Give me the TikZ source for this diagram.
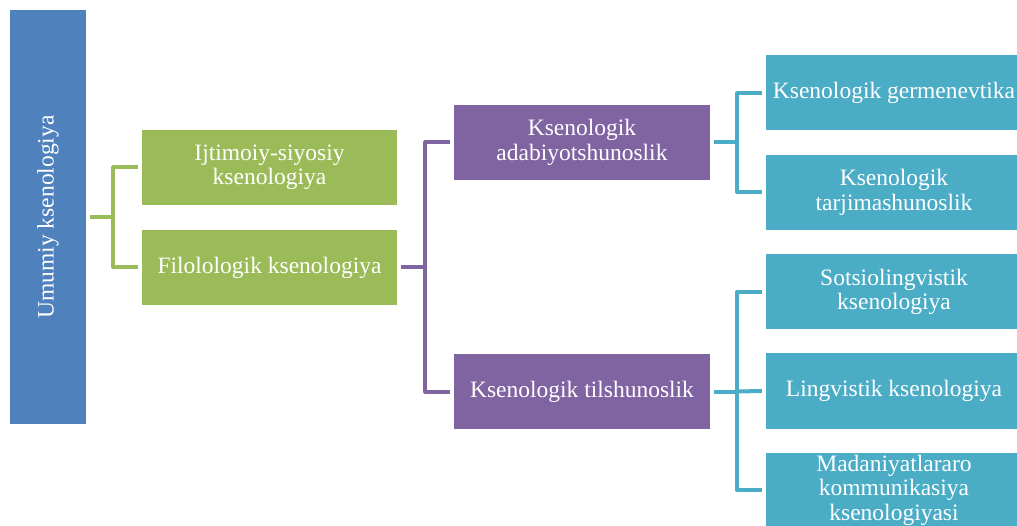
\documentclass[tikz,border=0pt]{standalone}
\usepackage{fontspec}
\setmainfont{Liberation Serif}
\definecolor{cblue}{HTML}{4F81BD}
\definecolor{cgreen}{HTML}{9BBB59}
\definecolor{cpurple}{HTML}{8064A2}
\definecolor{ccyan}{HTML}{4BACC6}
\tikzset{
  box/.style={rectangle, inner sep=0pt, minimum width=256pt, minimum height=75pt, text=white, align=center, font=\fontsize{23.5}{24.5}\selectfont},
  gbox/.style={box, fill=cgreen, minimum width=255pt},
  pbox/.style={box, fill=cpurple},
  cbox/.style={box, fill=ccyan},
  conn/.style={line width=4pt, line join=round},
  gl/.style={conn, draw=cgreen},
  pl/.style={conn, draw=cpurple},
  cl/.style={conn, draw=ccyan},
}
\begin{document}
\begin{tikzpicture}[x=1pt,y=-1pt]
\useasboundingbox (0,0) rectangle (1017,526);
\clip (0,0) rectangle (1017,526);
\node[box, fill=cblue, minimum width=76pt, minimum height=414pt] (blue) at (48,217) {};
\node[rotate=90, text=white, font=\fontsize{23.5}{24}\selectfont] (bluetext) at (blue.center) {Umumiy ksenologiya};
\node[gbox] (g1) at (269.5,167.5) {Ijtimoiy-siyosiy\\ksenologiya};
\node[gbox] (g2) at (269.5,267.5) {Filolologik ksenologiya};
\node[pbox] (p1) at (582,142.5) {Ksenologik\\adabiyotshunoslik};
\node[pbox] (p2) at (582,391.5) {Ksenologik tilshunoslik};
\node[cbox] (c1) at (894,93) {Ksenologik germenevtika};
\node[cbox] (c2) at (894,192.5) {Ksenologik\\tarjimashunoslik};
\node[cbox] (c3) at (894,292) {Sotsiolingvistik\\ksenologiya};
\node[cbox] (c4) at (894,391) {Lingvistik ksenologiya};
\node[cbox] (c5) at (894,490) {Madaniyatlararo\\kommunikasiya\\ksenologiyasi};
% green connectors
\coordinate (gj) at ([xshift=27pt]blue.east);
\draw[gl] ([xshift=4pt]blue.east) -- (gj);
\draw[gl] ([xshift=-4pt]g1.west) -| (gj) |- ([xshift=-4pt]g2.west);
% purple connectors
\coordinate (pj) at ([xshift=28pt]g2.east);
\draw[pl] ([xshift=4pt]g2.east) -- (pj);
\draw[pl] ([xshift=-4pt]p1.west) -| (pj) |- ([xshift=-4pt]p2.west);
% cyan connectors
\coordinate (cj1) at ([xshift=27pt]p1.east);
\draw[cl] ([xshift=4pt]p1.east) -- (cj1);
\draw[cl] ([xshift=-4pt]c1.west) -| (cj1) |- ([xshift=-4pt]c2.west);
\coordinate (cj2) at ([xshift=27pt]p2.east);
\draw[cl] ([xshift=4pt]p2.east) -- (cj2);
\draw[cl] ([xshift=-4pt]c3.west) -| (cj2) |- ([xshift=-4pt]c5.west);
\draw[cl] (cj2) -- ([xshift=-4pt]c4.west);
\end{tikzpicture}
\end{document}
